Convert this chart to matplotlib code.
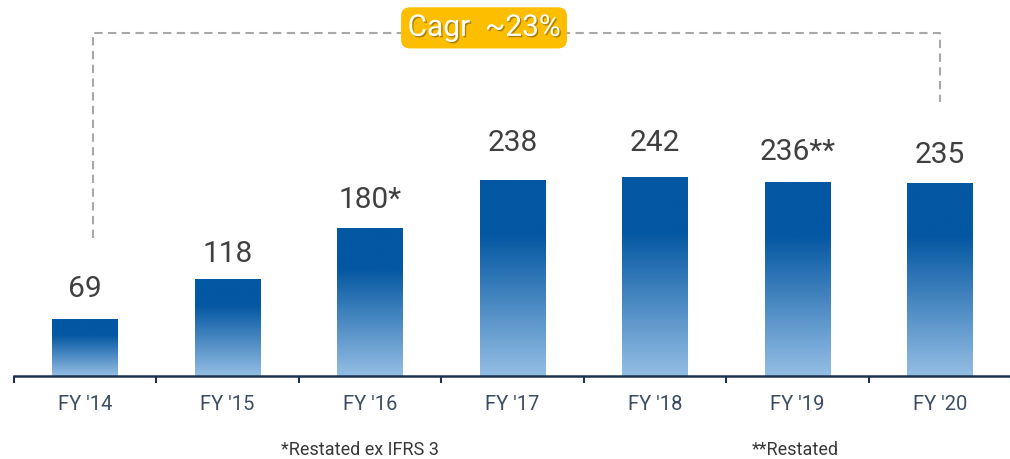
import numpy as np
import matplotlib.pyplot as plt
import matplotlib.patheffects as pe
from matplotlib.colors import LinearSegmentedColormap

plt.rcParams['font.family'] = ['Roboto', 'DejaVu Sans']

years = ["FY '14", "FY '15", "FY '16", "FY '17", "FY '18", "FY '19", "FY '20"]
values = [69, 118, 180, 238, 242, 236, 235]
labels = ["69", "118", "180*", "238", "242", "236**", "235"]
footnotes = ["*Restated ex IFRS 3", "**Restated"]
cagr_text = "Cagr  ~23%"

# label gap above each bar, in pixels
label_gap = [30, 25, 28, 37, 34, 30, 28]

dark = "#0457a2"
light = "#94bee4"
cmap = LinearSegmentedColormap.from_list("bar", [(0, light), (0.72, dark), (1, dark)])
grad = np.linspace(0, 1, 256).reshape(-1, 1)

fig = plt.figure(figsize=(10.1, 4.59), dpi=100)
px = 143.0
ax = fig.add_axes([14 / 1010, 83 / 459, 997 / 1010, 376 / 459])
ax.set_xlim(-0.5, -0.5 + 997 / px)
unit = 0.823  # px per value unit
ax.set_ylim(0, 376 / unit)

width = 0.46
x = np.arange(len(years))
bars = ax.bar(x, values, width=width, color="none", edgecolor="none")
for b, lab, gap in zip(bars, labels, label_gap):
    x0, h = b.get_x(), b.get_height()
    im = ax.imshow(grad, cmap=cmap, origin="lower", aspect="auto",
                   extent=[x0, x0 + width, 0, h], zorder=2)
    im.set_clip_path(b)
    ax.text(x0 + width / 2, h + gap / unit, lab, ha="center", va="center",
            fontsize=21.5, color="#404040")

# CAGR bracket
dash = dict(color="#a8a8a8", lw=1.5, linestyle=(0, (4, 2.6)), zorder=1)
top = 417
ax.plot([0.055, 0.055, 6.0, 6.0], [168, top, top, 333], **dash)
txt = ax.text(2.80, 423, cagr_text, ha="center", va="center", fontsize=21.5,
              color="white", zorder=5,
              path_effects=[pe.withSimplePatchShadow(offset=(1, -1), shadow_rgbFace="#7a5a00", alpha=0.6)])
txt.set_bbox(dict(boxstyle="round,pad=0.22,rounding_size=0.3", fc="#fdbe00", ec="none"))

# axes styling
for s in ["top", "right", "left"]:
    ax.spines[s].set_visible(False)
ax.spines["bottom"].set_color("#1e3250")
ax.spines["bottom"].set_linewidth(1.8)
ax.set_yticks([])
ax.set_xticks(x)
ax.set_xticklabels(years, fontsize=14.5, color="#3c4c63")
ax.tick_params(axis="x", which="major", length=0, pad=14)
ax.set_xticks(np.arange(-0.5, len(years), 1.0), minor=True)
ax.tick_params(axis="x", which="minor", length=5, width=1.5, color="#1e3250", direction="out")

for fx, note in zip([360, 795], footnotes):
    fig.text(fx / 1010, 1 - 450 / 459, note, ha="center", va="center",
             fontsize=13, color="#383838")

fig.savefig("out.png", dpi=100)
